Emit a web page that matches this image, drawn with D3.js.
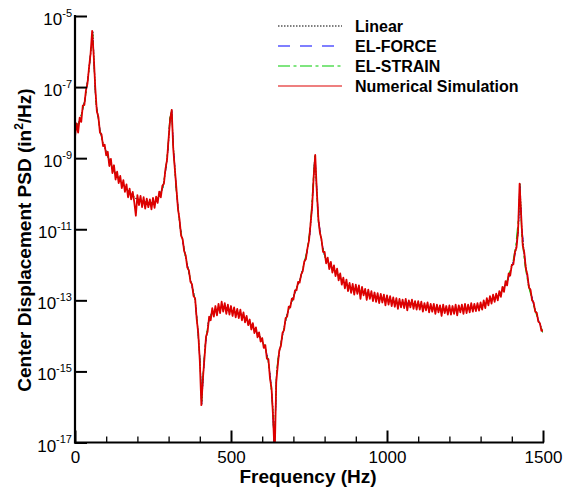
<!DOCTYPE html>
<html><head><meta charset="utf-8">
<script src="https://cdn.jsdelivr.net/npm/d3@7"></script>
<style>
body{margin:0;background:#fff;}
svg{display:block;font-family:"Liberation Sans",Arial,sans-serif;}
</style></head>
<body><svg id="c" width="569" height="493"></svg>
<script>
// ---- data ----
const xTicksMajor = [0, 500, 1000, 1500];
const xTicksMinor = [100,200,300,400,600,700,800,900,1100,1200,1300,1400];
const yTickExps = [-5, -7, -9, -11, -13, -15, -17];
const seriesNames = ["Linear", "EL-FORCE", "EL-STRAIN", "Numerical Simulation"];

// smooth model curves: frequency (Hz) and log10 PSD
const modelFreq = [0,16,32,42,48,53,57,61,67,74,80,90,100,112,128,144,160,176,192,208,224,240,256,272,282,292,298,304,310,314,324,330,337,353,369,385,394,401,406,411,417,427,438,454,470,486,497,513,529,550,570,593,609,619,627,634,639,646,652,662,673,684,700,711,721,732,743,753,759,764,769,775,780,791,801,817,839,860,881,913,945,978,1010,1042,1074,1099,1147,1202,1255,1298,1330,1352,1368,1384,1394,1405,1413,1421,1426,1432,1442,1453,1469,1485,1500];
const linearLog10 = [-8.21,-7.93,-7.36,-6.72,-6.24,-5.82,-5.42,-6.3,-7.45,-7.84,-8.21,-8.57,-8.83,-9.11,-9.39,-9.61,-9.81,-9.98,-10.12,-10.18,-10.23,-10.26,-10.24,-10.04,-9.81,-9.25,-8.77,-7.93,-7.64,-8.49,-9.81,-10.37,-10.94,-11.72,-12.37,-12.99,-13.84,-14.76,-15.95,-15.1,-14.31,-13.64,-13.36,-13.30,-13.19,-13.22,-13.27,-13.33,-13.36,-13.55,-13.75,-14.03,-14.31,-14.68,-15.24,-16.0,-17.3,-15.05,-14.60,-14.12,-13.64,-13.27,-12.91,-12.63,-12.43,-12.06,-11.67,-11.11,-10.46,-9.70,-8.91,-9.90,-10.74,-11.39,-11.78,-12.01,-12.23,-12.48,-12.63,-12.71,-12.85,-12.93,-12.99,-13.08,-13.08,-13.13,-13.22,-13.27,-13.24,-13.19,-12.99,-12.91,-12.77,-12.51,-12.23,-11.92,-11.58,-11.02,-9.70,-11.02,-11.87,-12.51,-13.08,-13.55,-13.9];
const elForceLog10 = [-8.21,-7.93,-7.36,-6.72,-6.24,-5.82,-5.43,-6.3,-7.45,-7.84,-8.21,-8.57,-8.83,-9.11,-9.39,-9.61,-9.81,-9.98,-10.12,-10.18,-10.23,-10.26,-10.24,-10.04,-9.81,-9.25,-8.77,-7.93,-7.62,-8.45,-9.80,-10.37,-10.94,-11.72,-12.37,-12.99,-13.84,-14.76,-15.90,-15.1,-14.31,-13.64,-13.36,-13.30,-13.19,-13.22,-13.27,-13.33,-13.36,-13.55,-13.75,-14.03,-14.31,-14.68,-15.24,-16.05,-17.4,-15.10,-14.62,-14.12,-13.64,-13.27,-12.91,-12.63,-12.43,-12.06,-11.67,-11.11,-10.46,-9.70,-8.88,-9.85,-10.70,-11.39,-11.78,-12.01,-12.23,-12.48,-12.63,-12.71,-12.85,-12.93,-12.99,-13.08,-13.08,-13.13,-13.22,-13.27,-13.24,-13.19,-12.99,-12.91,-12.77,-12.51,-12.23,-11.92,-11.58,-11.02,-9.66,-10.95,-11.85,-12.50,-13.08,-13.55,-13.9];
const elStrainLog10 = [-8.21,-7.93,-7.36,-6.72,-6.24,-5.80,-5.44,-6.35,-7.45,-7.84,-8.21,-8.57,-8.83,-9.11,-9.39,-9.61,-9.81,-9.98,-10.12,-10.18,-10.23,-10.26,-10.24,-10.04,-9.81,-9.22,-8.70,-7.85,-7.66,-8.55,-9.85,-10.40,-10.94,-11.72,-12.37,-12.99,-13.84,-14.80,-15.85,-15.0,-14.28,-13.64,-13.36,-13.30,-13.19,-13.22,-13.27,-13.33,-13.36,-13.55,-13.75,-14.03,-14.31,-14.68,-15.30,-16.1,-17.2,-15.00,-14.55,-14.12,-13.64,-13.27,-12.91,-12.63,-12.43,-12.04,-11.62,-11.02,-10.30,-9.55,-8.95,-10.00,-10.80,-11.39,-11.78,-12.01,-12.23,-12.48,-12.63,-12.71,-12.85,-12.93,-12.99,-13.08,-13.08,-13.13,-13.22,-13.27,-13.24,-13.19,-12.99,-12.91,-12.75,-12.47,-12.18,-11.85,-11.45,-10.70,-9.75,-11.20,-12.00,-12.58,-13.12,-13.58,-13.9];

// numerical simulation: one log10 PSD value every 5 Hz from 0 Hz to 1500 Hz
const simStartHz = 0, simStepHz = 5;
const simLog10 = [
-8.40,-8.02,-8.28,-7.86,-7.98,-7.52,-7.50,-7.10,-6.90,-6.45,
-6.05,-5.42,-6.12,-7.02,-7.68,-7.84,-8.28,-8.33,-8.66,-8.62,
-8.92,-8.82,-9.22,-9.02,-9.42,-9.20,-9.60,-9.38,-9.70,-9.50,
-9.84,-9.62,-9.95,-9.74,-10.10,-9.86,-10.16,-9.95,-10.24,-10.62,
-10.04,-10.32,-10.06,-10.38,-10.10,-10.42,-10.14,-10.38,-10.16,-10.44,
-10.12,-10.40,-10.08,-10.26,-9.94,-10.10,-9.78,-9.72,-9.30,-9.05,
-8.45,-7.90,-7.64,-8.75,-9.30,-9.85,-10.42,-10.72,-11.18,-11.28,
-11.62,-11.74,-12.08,-12.15,-12.48,-12.55,-12.88,-12.94,-13.52,-13.92,
-14.70,-15.95,-15.20,-14.62,-14.02,-13.88,-13.46,-13.56,-13.22,-13.46,
-13.16,-13.42,-13.10,-13.36,-13.04,-13.32,-13.08,-13.38,-13.12,-13.40,
-13.16,-13.44,-13.20,-13.48,-13.24,-13.50,-13.26,-13.56,-13.34,-13.62,
-13.44,-13.70,-13.54,-13.82,-13.64,-13.92,-13.76,-14.04,-13.90,-14.16,
-14.06,-14.34,-14.26,-14.64,-14.66,-15.20,-15.48,-16.30,-17.40,-15.30,
-14.82,-14.40,-14.28,-13.92,-13.84,-13.50,-13.46,-13.18,-13.20,-12.95,
-12.98,-12.72,-12.72,-12.48,-12.50,-12.27,-12.18,-11.90,-11.84,-11.54,
-11.32,-10.85,-10.36,-9.52,-8.91,-9.92,-10.70,-11.10,-11.28,-11.64,
-11.64,-11.96,-11.80,-12.12,-11.92,-12.22,-12.02,-12.32,-12.11,-12.44,
-12.24,-12.56,-12.36,-12.66,-12.42,-12.74,-12.51,-12.79,-12.54,-12.84,
-12.56,-12.82,-12.58,-12.96,-12.62,-12.86,-12.68,-12.99,-12.70,-12.96,
-12.74,-13.02,-12.78,-13.04,-12.80,-13.08,-12.82,-13.06,-12.84,-13.14,
-12.86,-13.12,-12.88,-13.16,-12.92,-13.18,-12.94,-13.24,-12.96,-13.20,
-12.98,-13.22,-12.96,-13.28,-13.00,-13.20,-12.98,-13.24,-13.02,-13.26,
-13.02,-13.26,-13.04,-13.32,-13.08,-13.28,-13.06,-13.34,-13.10,-13.32,
-13.10,-13.38,-13.12,-13.34,-13.14,-13.44,-13.12,-13.36,-13.16,-13.40,
-13.14,-13.40,-13.16,-13.38,-13.12,-13.42,-13.14,-13.34,-13.12,-13.38,
-13.10,-13.36,-13.12,-13.34,-13.08,-13.32,-13.10,-13.30,-13.08,-13.29,
-13.06,-13.26,-13.00,-13.22,-12.94,-13.14,-12.88,-13.09,-12.84,-13.04,
-12.81,-13.00,-12.74,-12.90,-12.62,-12.76,-12.46,-12.58,-12.24,-12.30,
-12.00,-11.99,-11.64,-11.52,-11.06,-9.72,-10.60,-11.45,-11.66,-12.10,
-12.28,-12.64,-12.70,-13.00,-13.06,-13.32,-13.35,-13.60,-13.64,-13.86,-13.84
];

// ---- drawing ----
const svg = d3.select("#c");
const L = 75, R = 543, T = 16, B = 442.5;
const x = d3.scaleLinear().domain([0, 1500]).range([L, R]);
const y = d3.scaleLog().domain([1e-17, 1e-5]).range([B, T]);

svg.append("defs").append("clipPath").attr("id", "clip")
  .append("rect").attr("x", L).attr("y", T).attr("width", R - L).attr("height", B - T);

const line = d3.line().x(d => x(d[0])).y(d => y(d[1]));
const toPts = (fr, lg) => fr.map((f, i) => [f, Math.pow(10, lg[i])]);

const plot = svg.append("g").attr("clip-path", "url(#clip)");
const styles = [
  {data: toPts(modelFreq, linearLog10), color: "#000", w: 1.1, lw: 1.1, dash: "1.5,1.5"},
  {data: toPts(modelFreq, elForceLog10), color: "#0000ff", w: 1.1, lw: 1.1, dash: "12,10"},
  {data: toPts(modelFreq, elStrainLog10), color: "#00cc00", w: 1.1, lw: 1.1, dash: "12,3.5,3,3.5"},
  {data: simLog10.map((v, i) => [simStartHz + i * simStepHz, Math.pow(10, v)]), color: "#dd0000", w: 1.8, lw: 1.2, dash: null}
];
styles.forEach(s => {
  plot.append("path").datum(s.data).attr("d", line)
    .attr("fill", "none").attr("stroke", s.color).attr("stroke-width", s.w)
    .attr("stroke-dasharray", s.dash).attr("stroke-linejoin", "round");
});

// x axis
const gxMinor = svg.append("g").attr("transform", `translate(0,${B})`)
  .call(d3.axisBottom(x).tickValues(xTicksMinor).tickSizeInner(-6).tickSizeOuter(0).tickFormat(""));
gxMinor.select(".domain").remove();
const gx = svg.append("g").attr("transform", `translate(0,${B})`)
  .call(d3.axisBottom(x).tickValues(xTicksMajor).tickSizeInner(-12).tickSizeOuter(0).tickPadding(8).tickFormat(d3.format("d")));
gx.selectAll("line").attr("stroke-width", 2);
gxMinor.selectAll("line").attr("stroke-width", 1.3);
gx.select(".domain").attr("stroke-width", 2.2).attr("d", `M${L - 1},0H${R + 1}`);
gx.selectAll("text").attr("font-size", 17).attr("fill", "#000").attr("font-family", "Liberation Sans, Arial");

// y axis
const gy = svg.append("g").attr("transform", `translate(${L},0)`)
  .call(d3.axisLeft(y).tickValues(yTickExps.map(e => Math.pow(10, e))).tickSizeInner(-12).tickSizeOuter(0).tickPadding(3).tickFormat(""));
gy.selectAll("line").attr("stroke-width", 2);
gy.select(".domain").attr("stroke-width", 2.2).attr("d", `M0,${T - 1}V${B + 1}`);
gy.selectAll(".tick text").each(function(d, i) {
  const t = d3.select(this).attr("font-size", 17).attr("fill", "#000").attr("dy", "0.5em")
    .attr("font-family", "Liberation Sans, Arial");
  t.append("tspan").text("10");
  t.append("tspan").attr("font-size", 11).attr("dy", "-0.75em").text(String(yTickExps[i]));
});

// axis titles
svg.append("text").attr("x", 308).attr("y", 483).attr("text-anchor", "middle")
  .attr("font-size", 19).attr("font-weight", "bold").text("Frequency (Hz)");
const yt = svg.append("text").attr("transform", "translate(31,240) rotate(-90)")
  .attr("text-anchor", "middle").attr("font-size", 19).attr("font-weight", "bold");
yt.append("tspan").text("Center Displacement PSD (in");
yt.append("tspan").attr("font-size", 12).attr("dy", "-0.7em").text("2");
yt.append("tspan").attr("dy", "0.45em").text("/Hz)");

// legend
const legY = [26, 46, 66, 86];
const lg = svg.append("g");
styles.forEach((s, i) => {
  lg.append("line").attr("x1", 278).attr("x2", 342).attr("y1", legY[i]).attr("y2", legY[i])
    .attr("stroke", s.color).attr("stroke-width", s.lw).attr("stroke-dasharray", s.dash);
  lg.append("text").attr("x", 355).attr("y", legY[i] + 5.5).attr("font-size", 16)
    .attr("font-weight", "bold").text(seriesNames[i]);
});
</script></body></html>
